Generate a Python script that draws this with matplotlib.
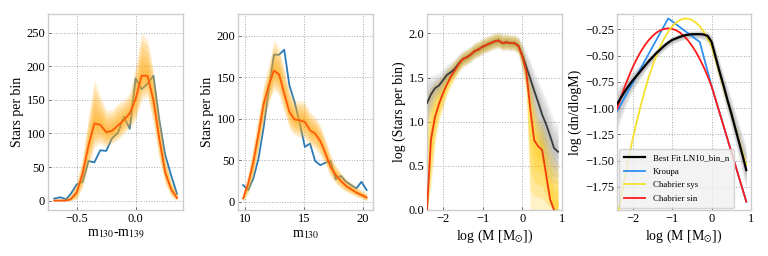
import numpy as np
import matplotlib
matplotlib.use("Agg")
import matplotlib.pyplot as plt

plt.rcParams["font.family"] = ["Liberation Serif", "DejaVu Serif"]
plt.rcParams["mathtext.fontset"] = "stix"
plt.rcParams["axes.unicode_minus"] = True

# ---- panel 1: colour distribution ----
x1 = [-0.69, -0.64, -0.59, -0.55, -0.50, -0.45, -0.40, -0.35, -0.30, -0.25, -0.20,
      -0.15, -0.10, -0.05, 0.00, 0.05, 0.10, 0.15, 0.20, 0.25, 0.30, 0.35]
obs1 = [3, 5, 2, 10, 24, 28, 59, 57, 75, 74, 93, 101, 125, 107, 182, 166, 174, 186,
        120, 68, 38, 10]
med1 = [0, 0, 0, 2, 12, 40, 82, 115, 113, 102, 104, 112, 120, 130, 152, 186, 186,
        150, 92, 42, 17, 4]
hi1 = [3, 3, 4, 10, 28, 65, 125, 180, 155, 135, 135, 145, 150, 160, 200, 250, 240,
       195, 130, 65, 30, 10]
lo1 = [0, 0, 0, 0, 2, 20, 50, 80, 85, 80, 85, 90, 100, 108, 120, 150, 155, 115, 60,
       25, 6, 0]

# ---- panel 2: magnitude distribution ----
x2 = [9.86, 10.30, 10.73, 11.17, 11.61, 12.04, 12.48, 12.92, 13.35, 13.79, 14.23,
      14.66, 15.10, 15.54, 15.97, 16.41, 16.85, 17.28, 17.72, 18.16, 18.59, 19.03,
      19.47, 19.90, 20.34]
obs2 = [20, 14, 28, 52, 90, 135, 177, 177, 183, 140, 120, 95, 66, 70, 49, 44, 47, 49,
        27, 31, 24, 20, 16, 24, 14]
med2 = [4, 22, 48, 82, 118, 140, 158, 153, 130, 108, 99, 98, 96, 86, 82, 73, 58, 42,
        32, 25, 19, 15, 11, 8, 5]
hi2 = [12, 35, 68, 105, 140, 165, 195, 185, 160, 135, 122, 122, 120, 108, 102, 92,
       75, 56, 44, 35, 28, 23, 18, 14, 10]
lo2 = [0, 10, 30, 62, 95, 118, 135, 128, 108, 88, 80, 78, 76, 68, 64, 56, 44, 30, 22,
       16, 12, 9, 6, 4, 1]

# ---- panel 3: mass function (log counts) ----
x3 = [-2.4, -2.3, -2.2, -2.1, -2.0, -1.9, -1.8, -1.7, -1.6, -1.5, -1.4, -1.3, -1.2,
      -1.1, -1.0, -0.9, -0.8, -0.7, -0.6, -0.5, -0.4, -0.3, -0.2, -0.1, 0.0, 0.1,
      0.2, 0.3, 0.4, 0.5, 0.6, 0.7, 0.8, 0.9]
gray3 = [1.21, 1.31, 1.38, 1.41, 1.47, 1.53, 1.56, 1.60, 1.66, 1.71, 1.73, 1.76, 1.80,
         1.82, 1.85, 1.87, 1.89, 1.91, 1.92, 1.89, 1.90, 1.89, 1.89, 1.86, 1.75, 1.62,
         1.49, 1.35, 1.22, 1.08, 0.97, 0.84, 0.70, 0.66]
gray3_hi = [1.52, 1.52, 1.54, 1.56, 1.60, 1.65, 1.68, 1.72, 1.77, 1.81, 1.83, 1.86,
            1.90, 1.92, 1.95, 1.97, 1.99, 2.01, 2.02, 2.00, 2.00, 1.99, 1.99, 1.97,
            1.90, 1.80, 1.70, 1.58, 1.47, 1.36, 1.26, 1.14, 1.02, 0.97]
gray3_lo = [0.95, 1.10, 1.22, 1.28, 1.36, 1.43, 1.47, 1.51, 1.57, 1.62, 1.64, 1.67,
            1.71, 1.73, 1.76, 1.78, 1.80, 1.82, 1.83, 1.80, 1.81, 1.80, 1.80, 1.76,
            1.58, 1.38, 1.15, 0.93, 0.74, 0.56, 0.42, 0.32, 0.30, 0.30]
red3 = [0.0, 0.80, 1.05, 1.20, 1.32, 1.42, 1.51, 1.58, 1.65, 1.71, 1.73, 1.76, 1.80,
        1.82, 1.85, 1.87, 1.89, 1.91, 1.92, 1.89, 1.90, 1.89, 1.89, 1.86, 1.74, 1.57,
        1.15, 0.79, 0.72, 0.68, 0.40, 0.12, 0.0, np.nan]
yel3_hi = [1.32, 1.40, 1.45, 1.49, 1.53, 1.60, 1.65, 1.70, 1.75, 1.79, 1.82, 1.85,
           1.89, 1.91, 1.94, 1.96, 1.98, 2.00, 2.01, 1.99, 1.99, 1.98, 1.98, 1.95,
           1.85, 1.70, 1.48, 1.25, 1.05, 1.00, 0.90, 0.75, 0.62, 0.52]
yel3_lo = [0.0, 0.25, 0.75, 1.00, 1.15, 1.30, 1.40, 1.48, 1.56, 1.62, 1.65, 1.68,
           1.72, 1.74, 1.77, 1.79, 1.81, 1.83, 1.84, 1.81, 1.82, 1.81, 1.81, 1.77,
           1.60, 1.30, 0.0, 0.0, 0.0, 0.0, 0.0, 0.0, 0.0, 0.0]

# ---- panel 4: IMF comparison ----
x4 = [-2.4, -2.3, -2.2, -2.1, -2.0, -1.9, -1.8, -1.7, -1.6, -1.5, -1.4, -1.3, -1.2,
      -1.1, -1.0, -0.9, -0.8, -0.7, -0.6, -0.5, -0.4, -0.3, -0.2, -0.1, 0.0, 0.1,
      0.2, 0.3, 0.4, 0.5, 0.6, 0.7, 0.8, 0.88]
best4 = [-0.96, -0.90, -0.84, -0.785, -0.735, -0.69, -0.645, -0.60, -0.555, -0.515,
         -0.475, -0.44, -0.405, -0.375, -0.35, -0.335, -0.32, -0.308, -0.30, -0.296,
         -0.295, -0.295, -0.298, -0.312, -0.37, -0.51, -0.65, -0.78, -0.92, -1.05,
         -1.19, -1.33, -1.47, -1.59]
best4_hi = [-0.82, -0.77, -0.73, -0.69, -0.65, -0.615, -0.58, -0.545, -0.505, -0.47,
            -0.435, -0.40, -0.37, -0.34, -0.315, -0.30, -0.287, -0.276, -0.268, -0.263,
            -0.26, -0.26, -0.262, -0.27, -0.30, -0.42, -0.55, -0.67, -0.79, -0.91,
            -1.03, -1.15, -1.27, -1.37]
best4_lo = [-1.22, -1.10, -1.00, -0.91, -0.84, -0.775, -0.715, -0.66, -0.61, -0.565,
            -0.52, -0.485, -0.45, -0.42, -0.395, -0.378, -0.362, -0.35, -0.342, -0.337,
            -0.337, -0.34, -0.347, -0.375, -0.46, -0.61, -0.76, -0.90, -1.05, -1.19,
            -1.34, -1.49, -1.64, -1.78]
chab_sys = [-2.07, -1.86, -1.66, -1.47, -1.29, -1.13, -0.98, -0.84, -0.71, -0.60,
            -0.50, -0.41, -0.335, -0.27, -0.22, -0.185, -0.16, -0.147, -0.147, -0.16,
            -0.185, -0.22, -0.27, -0.335, -0.41, -0.54, -0.67, -0.80, -0.93, -1.05,
            -1.18, -1.31, -1.44, -1.54]
chab_sin = [-1.01, -0.897, -0.792, -0.696, -0.609, -0.532, -0.463, -0.404, -0.354,
            -0.313, -0.281, -0.258, -0.245, -0.24, -0.245, -0.258, -0.281, -0.313,
            -0.354, -0.404, -0.463, -0.532, -0.609, -0.696, -0.792, -0.915, -1.04,
            -1.165, -1.29, -1.415, -1.54, -1.665, -1.79, -1.89]
kroupa_x = [-2.4, -1.1, -0.3, 0.0, 0.88]
kroupa_y = [-1.03, -0.145, -0.37, -0.79, -1.89]


def fan(ax, x, med, lo, hi, color, n=6, alpha=0.13, zorder=2):
    # stack of bands shrinking towards the median -> denser core
    med = np.asarray(med, float)
    lo, hi = np.asarray(lo, float), np.asarray(hi, float)
    for k in range(1, n + 1):
        f = k / n
        ax.fill_between(x, med - f * (med - lo), med + f * (hi - med),
                        color=color, alpha=alpha, lw=0, zorder=zorder)


def style(ax):
    ax.set_facecolor("white")
    ax.grid(True, linestyle=":", color="#aaaaaa", lw=0.7)
    ax.set_axisbelow(True)
    for s in ax.spines.values():
        s.set_color("#cccccc")
        s.set_linewidth(1.0)
    ax.tick_params(direction="in", length=2.5, width=0.6, color="#555555",
                   labelsize=9, pad=2)


fig = plt.figure(figsize=(7.68, 2.56), dpi=100)
W, H = 768, 256


def add(left, right, top=14, bottom=210):
    return fig.add_axes([left / W, (H - bottom) / H, (right - left) / W,
                         (bottom - top) / H])


ax1 = add(48, 183)
ax2 = add(238, 373)
ax3 = add(427, 562)
ax4 = add(617, 751)

# panel 1
style(ax1)
ax1.plot(x1, obs1, color="#2a7ab8", lw=1.3, zorder=1)
fan(ax1, x1, med1, lo1, hi1, "#ffaa10", n=6, alpha=0.2)
ax1.plot(x1, med1, color="#ff5a0a", lw=1.3, zorder=3)
ax1.set_xlim(-0.743, 0.401)
ax1.set_ylim(-14, 278)
ax1.set_xticks([-0.5, 0.0])
ax1.set_yticks([0, 50, 100, 150, 200, 250])
ax1.set_xlabel("m$_{130}$-m$_{139}$", fontsize=10, labelpad=2)
ax1.set_ylabel("Stars per bin", fontsize=10, labelpad=2)

# panel 2
style(ax2)
ax2.plot(x2, obs2, color="#2a7ab8", lw=1.3, zorder=1)
fan(ax2, x2, med2, lo2, hi2, "#ffaa10", n=6, alpha=0.2)
ax2.plot(x2, med2, color="#ff5a0a", lw=1.3, zorder=3)
ax2.set_xlim(9.43, 20.88)
ax2.set_ylim(-10, 226)
ax2.set_xticks([10, 15, 20])
ax2.set_yticks([0, 50, 100, 150, 200])
ax2.set_xlabel("m$_{130}$", fontsize=10, labelpad=2)
ax2.set_ylabel("Stars per bin", fontsize=10, labelpad=2)

# panel 3
style(ax3)
red3_base = np.where(np.isnan(red3), 0.0, red3)
fan(ax3, x3, red3_base, yel3_lo, yel3_hi, "#ffc800", n=5, alpha=0.22, zorder=2)
fan(ax3, x3, gray3, gray3_lo, gray3_hi, "#6a6a6a", n=5, alpha=0.09, zorder=2)
ax3.plot(x3, gray3, color="#3c3c3c", lw=1.3, zorder=3)
ax3.plot(x3, red3, color="#f03a12", lw=1.3, zorder=4)
ax3.set_xlim(-2.4, 1.0)
ax3.set_ylim(0.0, 2.22)
ax3.set_xticks([-2, -1, 0, 1])
ax3.set_yticks([0.0, 0.5, 1.0, 1.5, 2.0])
ax3.set_xlabel(r"log (M [M$_{\odot}$])", fontsize=10, labelpad=2)
ax3.set_ylabel("log (Stars per bin)", fontsize=10, labelpad=2)

# panel 4
style(ax4)
fan(ax4, x4, best4, best4_lo, best4_hi, "#7a7a7a", n=5, alpha=0.14, zorder=2)
ax4.plot(x4, best4, color="black", lw=1.6, zorder=5, label="Best Fit LN10_bin_n")
ax4.plot(kroupa_x, kroupa_y, color="#2e8ff0", lw=1.3, zorder=3, label="Kroupa")
ax4.plot(x4, chab_sys, color="#f5e12c", lw=1.3, zorder=4, label="Chabrier sys")
ax4.plot(x4, chab_sin, color="#ff1a1a", lw=1.3, zorder=3.5, label="Chabrier sin")
ax4.set_xlim(-2.4, 1.0)
ax4.set_ylim(-1.97, -0.103)
ax4.set_xticks([-2, -1, 0, 1])
ax4.set_yticks([-0.25, -0.5, -0.75, -1.0, -1.25, -1.5, -1.75])
ax4.set_xlabel(r"log (M [M$_{\odot}$])", fontsize=10, labelpad=2)
ax4.set_ylabel("log (dn/dlogM)", fontsize=10, labelpad=2)
leg = ax4.legend(loc="lower left", fontsize=6.4, frameon=True, borderpad=0.55,
                 handlelength=2.4, labelspacing=0.6, borderaxespad=0.25)
leg.get_frame().set_facecolor("#f0f0f0")
leg.get_frame().set_edgecolor("#cccccc")
leg.set_zorder(10)

fig.savefig("out.png", dpi=100)
plt.close(fig)
